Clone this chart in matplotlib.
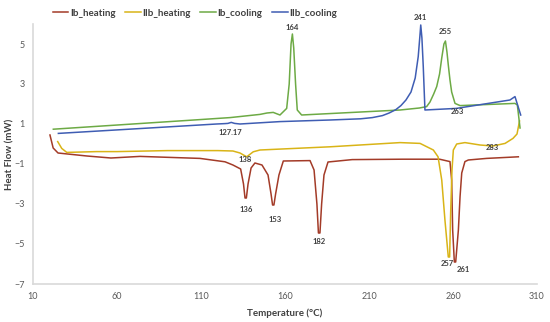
import matplotlib
matplotlib.use("Agg")
import matplotlib.pyplot as plt

# ---- data ----
ib_heat_T = [20.1, 22.0, 24.9, 42.1, 56.4, 73.7, 109.4, 124.3, 129.0, 133.6, 135.3, 136.2, 137.0,
             138.0, 139.8, 142.1, 146.3, 149.9, 151.7, 152.6, 153.4, 154.4, 156.4, 159.0,
             174.9, 177.3, 179.0, 179.9, 180.8, 181.8, 183.2, 185.6, 200.0, 230.0, 252.0,
             258.2, 259.2, 259.8, 260.8, 261.6, 263.2, 264.2, 265.2, 267.1, 269.1, 280.0, 298.9]
ib_heat_H = [0.45, -0.2, -0.45, -0.6, -0.7, -0.62, -0.72, -0.89, -1.05, -1.25, -2.0, -2.7, -2.7,
             -2.0, -1.2, -0.95, -1.05, -1.55, -2.5, -3.05, -3.05, -2.5, -1.55, -0.85,
             -0.83, -1.3, -3.0, -4.45, -4.45, -3.0, -1.55, -0.9, -0.78, -0.76, -0.76,
             -0.88, -1.8, -4.3, -5.9, -5.9, -4.3, -2.63, -1.45, -0.88, -0.8, -0.72, -0.64]

iib_heat_T = [24.7, 27.1, 30.1, 47.9, 60.0, 90.0, 120.0, 129.0, 133.2, 137.2, 141.1, 145.1,
              186.8, 228.5, 240.4, 248.3, 251.1, 253.3, 255.2, 257.2, 258.0, 258.6, 259.4,
              260.2, 262.2, 267.1, 276.1, 283.8, 291.0, 295.7, 298.1, 299.6]
iib_heat_H = [0.12, -0.22, -0.42, -0.38, -0.38, -0.33, -0.33, -0.35, -0.45, -0.64, -0.39, -0.3,
              -0.14, 0.07, 0.03, -0.3, -0.64, -1.8, -3.8, -5.65, -5.65, -3.45, -1.3,
              -0.3, 0.0, 0.07, -0.05, -0.1, 0.03, 0.28, 0.5, 1.15]

ib_cool_T = [22.1, 109.4, 127.3, 145.1, 149.3, 153.0, 157.0, 161.0, 162.5, 163.6, 164.4, 165.2,
             166.3, 167.3, 169.9, 228.5, 240.0, 244.3, 246.3, 248.5, 250.3, 252.0, 253.3,
             254.6, 255.5, 256.4, 257.2, 258.2, 259.2, 261.2, 264.2, 296.9, 298.3, 299.9]
ib_cool_H = [0.74, 1.22, 1.32, 1.48, 1.55, 1.58, 1.45, 1.78, 3.0, 5.0, 5.5, 4.8,
             3.0, 1.7, 1.45, 1.7, 1.8, 1.87, 2.1, 2.5, 2.87, 3.5, 4.3,
             5.0, 5.15, 4.6, 3.95, 3.2, 2.6, 2.03, 1.92, 2.03, 1.95, 0.8]

iib_cool_T = [25.1, 119.3, 124.3, 126.0, 128.0, 130.0, 133.2, 157.0, 186.8, 205.0, 212.0, 218.0,
              222.0, 226.0, 229.0, 232.0, 235.0, 237.5, 239.3, 240.3, 240.8, 241.5, 242.3,
              243.3, 262.0, 293.9, 296.9, 300.3]
iib_cool_H = [0.53, 1.0, 1.02, 1.03, 1.08, 1.03, 1.0, 1.12, 1.2, 1.26, 1.32, 1.42,
              1.55, 1.72, 1.92, 2.2, 2.6, 3.3, 4.37, 5.4, 5.95, 5.3, 3.87,
              1.7, 1.78, 2.2, 2.37, 1.45]

peak_labels = ["164", "241", "255", "263", "127.17", "138", "136", "153", "182", "257", "261", "283"]
peak_T = [164.4, 240.8, 255.2, 262.4, 127.3, 136.0, 137.2, 153.9, 180.0, 256.6, 265.9, 283.5]
peak_H = [5.8, 6.3, 5.6, 1.6, 0.55, -0.8, -3.3, -3.76, -4.9, -5.95, -6.3, -0.2]

series = [
    ("Ib_heating", ib_heat_T, ib_heat_H, "#A33B28"),
    ("IIb_heating", iib_heat_T, iib_heat_H, "#D9B417"),
    ("Ib_cooling", ib_cool_T, ib_cool_H, "#6DAA45"),
    ("IIb_cooling", iib_cool_T, iib_cool_H, "#3F5DB3"),
]

plt.rcParams["font.family"] = ["Lato", "DejaVu Sans"]

fig = plt.figure(figsize=(5.5, 3.22), dpi=100)
ax = fig.add_axes([33 / 550, 1 - 284 / 322, 504 / 550, 260 / 322])

for name, T, H, c in series:
    ax.plot(T, H, color=c, linewidth=1.1, label=name)

for lab, t, h in zip(peak_labels, peak_T, peak_H):
    ax.text(t, h, lab, fontsize=5.5, fontweight="bold", color="#404040",
            ha="center", va="center")

ax.set_xlim(10, 310)
ax.set_ylim(-7, 6)
ax.set_xticks(range(10, 311, 50))
ax.set_yticks(range(-7, 6, 2))
ax.tick_params(length=0, labelsize=6.5, labelcolor="#595959", pad=6)

for s in ["top", "right"]:
    ax.spines[s].set_visible(False)
for s in ["left", "bottom"]:
    ax.spines[s].set_color("#D9D9D9")
    ax.spines[s].set_linewidth(1.2)

ax.set_xlabel("Temperature (°C)", fontsize=7, fontweight="bold", color="#404040", labelpad=5)
ax.set_ylabel("Heat Flow (mW)", fontsize=7, fontweight="bold", color="#404040")
ax.yaxis.set_label_coords(-0.036, 0.5)

fig.legend(loc="upper left", bbox_to_anchor=(44 / 550, 1.0), ncol=4, frameon=False,
           prop={"weight": "bold", "size": 7}, handlelength=1.6,
           handletextpad=0.15, columnspacing=1.0, labelcolor="#404040")

fig.savefig("out.png", dpi=100)
